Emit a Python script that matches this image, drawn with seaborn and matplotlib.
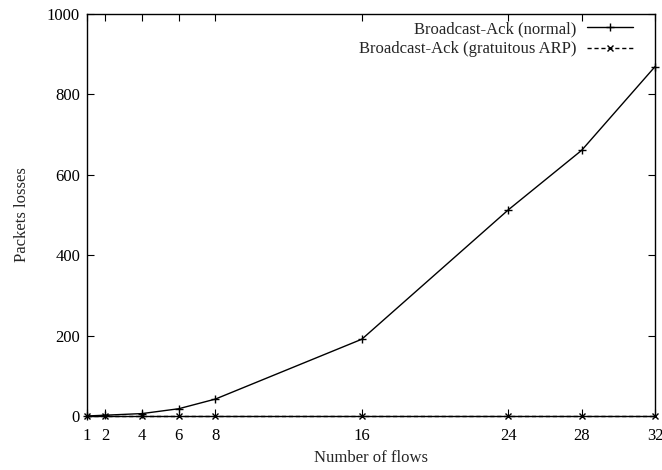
import matplotlib
matplotlib.use("Agg")
import matplotlib.pyplot as plt
import seaborn as sns
import pandas as pd

# data
flows = [1, 2, 4, 6, 8, 16, 24, 28, 32]
losses_normal = [0, 2, 6, 18, 42, 191, 513, 661, 869]
losses_garp = [0, 0, 0, 0, 0, 0, 0, 0, 0]
xticks = [1, 2, 4, 6, 8, 16, 24, 28, 32]
yticks = [0, 200, 400, 600, 800, 1000]

sns.set_style("ticks")
plt.rcParams['font.family'] = ['Liberation Serif', 'DejaVu Serif']
plt.rcParams['xtick.direction'] = 'in'
plt.rcParams['ytick.direction'] = 'in'
plt.rcParams['xtick.top'] = True
plt.rcParams['ytick.right'] = True

df = pd.DataFrame({"flows": flows, "normal": losses_normal, "garp": losses_garp})

fig = plt.figure(figsize=(6.62, 4.70), dpi=100)
ax = fig.add_axes([0.1314, 0.1149, 0.8580, 0.8553])

sns.lineplot(data=df, x="flows", y="normal", ax=ax, color="black", lw=1,
             marker="+", markersize=6, mew=1, mec="black", clip_on=False,
             label="Broadcast-Ack (normal)")
sns.lineplot(data=df, x="flows", y="garp", ax=ax, color="black", lw=1,
             marker="x", markersize=5, mew=1, mec="black", linestyle=(0, (3, 2)),
             clip_on=False, label="Broadcast-Ack (gratuitous ARP)")

ax.set_xlim(1, 32)
ax.set_ylim(0, 1000)
ax.set_xticks(xticks)
ax.set_yticks(yticks)
ax.tick_params(labelsize=12, length=5, width=0.8, colors="black", pad=5)
ax.tick_params(axis="x", pad=9)
for s in ax.spines.values():
    s.set_visible(True)
    s.set_linewidth(1)
    s.set_color("black")
ax.set_xlabel("Number of flows", fontsize=12, labelpad=4)
ax.set_ylabel("Packets losses", fontsize=12, labelpad=12)

ax.legend(loc="upper right", bbox_to_anchor=(0.961, 0.982), frameon=False,
          markerfirst=False, fontsize=12, handlelength=2.75, handletextpad=0.65,
          borderpad=0, borderaxespad=0, labelspacing=0.25)

fig.savefig("out.png", dpi=100)
